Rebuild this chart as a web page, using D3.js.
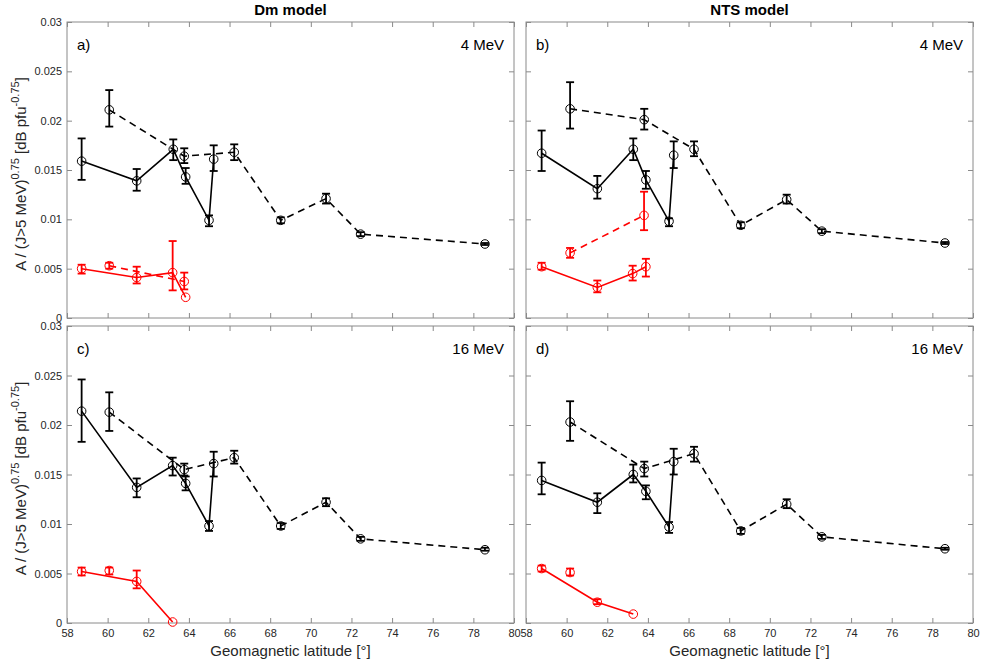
<!DOCTYPE html>
<html><head><meta charset="utf-8">
<script src="https://cdn.jsdelivr.net/npm/d3@7"></script>
<style>
html,body{margin:0;padding:0;background:#fff;}
svg{display:block;font-family:"Liberation Sans",Arial,sans-serif;}
</style></head>
<body>
<script>
// ---------- data ----------
const xTicks = [58,60,62,64,66,68,70,72,74,76,78,80];
const yTicks = [0,0.005,0.01,0.015,0.02,0.025,0.03];
const yTickLabels = ["0","0.005","0.01","0.015","0.02","0.025","0.03"];
const modelTitles = ["Dm model","NTS model"];
const panelLetters = ["a)","b)","c)","d)"];
const energyLabels = ["4 MeV","4 MeV","16 MeV","16 MeV"];

// panel a: Dm, 4 MeV
const blackSolidA_lat = [58.72,61.43,63.23,63.84,64.99,65.22];
const blackSolidA_val = [0.0159,0.0139,0.0171,0.0143,0.0099,0.0161];
const blackSolidA_lo  = [0.0140,0.0129,0.0160,0.0136,0.0093,0.0149];
const blackSolidA_hi  = [0.0182,0.0151,0.0181,0.0152,0.0104,0.0175];
const blackDashA_lat = [60.08,63.77,66.23,68.52,70.75,72.45,78.57];
const blackDashA_val = [0.0211,0.0164,0.0168,0.0099,0.0121,0.0085,0.0075];
const blackDashA_lo  = [0.0194,0.0157,0.0160,0.0096,0.0116,0.0083,0.0074];
const blackDashA_hi  = [0.0231,0.0172,0.0176,0.0102,0.0126,0.0087,0.0076];
const redSolidA_lat = [58.72,61.43,63.20,63.84];
const redSolidA_val = [0.0050,0.0041,0.0046,0.0021];
const redSolidA_lo  = [0.0045,0.0035,0.0028,null];
const redSolidA_hi  = [0.0054,0.0052,0.0078,null];
const redDashA_lat = [60.08,63.77];
const redDashA_val = [0.0053,0.0037];
const redDashA_lo  = [0.0050,0.0029];
const redDashA_hi  = [0.0056,0.0046];

// panel b: NTS, 4 MeV
const blackSolidB_lat = [58.77,61.51,63.28,63.90,65.04,65.27];
const blackSolidB_val = [0.0167,0.0131,0.0171,0.0140,0.0098,0.0165];
const blackSolidB_lo  = [0.0149,0.0121,0.0160,0.0131,0.0093,0.0152];
const blackSolidB_hi  = [0.0190,0.0144,0.0182,0.0149,0.0101,0.0179];
const blackDashB_lat = [60.17,63.82,66.27,68.57,70.83,72.56,78.62];
const blackDashB_val = [0.0212,0.0201,0.0171,0.0094,0.0120,0.0088,0.0076];
const blackDashB_lo  = [0.0192,0.0191,0.0164,0.0091,0.0116,0.0086,0.0075];
const blackDashB_hi  = [0.0239,0.0212,0.0179,0.0097,0.0125,0.0090,0.0077];
const redSolidB_lat = [58.77,61.51,63.25,63.90];
const redSolidB_val = [0.0052,0.0031,0.0045,0.0052];
const redSolidB_lo  = [0.0049,0.0026,0.0038,0.0042];
const redSolidB_hi  = [0.0056,0.0038,0.0053,0.0060];
const redDashB_lat = [60.17,63.81];
const redDashB_val = [0.0066,0.0104];
const redDashB_lo  = [0.0061,0.0089];
const redDashB_hi  = [0.0071,0.0128];

// panel c: Dm, 16 MeV
const blackSolidC_lat = [58.72,61.43,63.20,63.84,64.99,65.22];
const blackSolidC_val = [0.0214,0.0137,0.0159,0.0141,0.0098,0.0161];
const blackSolidC_lo  = [0.0183,0.0127,0.0149,0.0134,0.0093,0.0148];
const blackSolidC_hi  = [0.0246,0.0146,0.0167,0.0148,0.0103,0.0173];
const blackDashC_lat = [60.08,63.77,66.23,68.52,70.75,72.45,78.57];
const blackDashC_val = [0.0213,0.0155,0.0167,0.0098,0.0122,0.0085,0.0074];
const blackDashC_lo  = [0.0194,0.0149,0.0161,0.0095,0.0118,0.0083,0.0073];
const blackDashC_hi  = [0.0233,0.0161,0.0174,0.0101,0.0126,0.0087,0.0076];
const redSolidC_lat = [58.72,61.43,63.20];
const redSolidC_val = [0.0052,0.0042,0.0001];
const redSolidC_lo  = [0.0048,0.0035,null];
const redSolidC_hi  = [0.0056,0.0053,null];
const redPointC_lat = [60.08];
const redPointC_val = [0.0053];
const redPointC_lo  = [0.0049];
const redPointC_hi  = [0.0056];

// panel d: NTS, 16 MeV
const blackSolidD_lat = [58.77,61.51,63.28,63.90,65.04,65.27];
const blackSolidD_val = [0.0144,0.0122,0.0150,0.0133,0.0097,0.0163];
const blackSolidD_lo  = [0.0130,0.0111,0.0142,0.0125,0.0091,0.0150];
const blackSolidD_hi  = [0.0162,0.0131,0.0160,0.0139,0.0102,0.0176];
const blackDashD_lat = [60.17,63.82,66.27,68.57,70.83,72.56,78.62];
const blackDashD_val = [0.0203,0.0156,0.0171,0.0093,0.0120,0.0087,0.0075];
const blackDashD_lo  = [0.0184,0.0148,0.0163,0.0090,0.0116,0.0085,0.0074];
const blackDashD_hi  = [0.0224,0.0163,0.0178,0.0096,0.0125,0.0089,0.0076];
const redSolidD_lat = [58.77,61.51,63.28];
const redSolidD_val = [0.0055,0.0021,0.0009];
const redSolidD_lo  = [0.0052,0.0019,null];
const redSolidD_hi  = [0.0058,0.0024,null];
const redPointD_lat = [60.17];
const redPointD_val = [0.0051];
const redPointD_lo  = [0.0048];
const redPointD_hi  = [0.0055];

// ---------- assemble ----------
function series(lat,val,lo,hi,color,style){
  return {color, style, pts: lat.map((x,i)=>({x, y:val[i], lo:lo[i], hi:hi[i]}))};
}
const panelSeries = [
  [series(blackSolidA_lat,blackSolidA_val,blackSolidA_lo,blackSolidA_hi,"#000","solid"),
   series(blackDashA_lat,blackDashA_val,blackDashA_lo,blackDashA_hi,"#000","dash"),
   series(redSolidA_lat,redSolidA_val,redSolidA_lo,redSolidA_hi,"#ff0000","solid"),
   series(redDashA_lat,redDashA_val,redDashA_lo,redDashA_hi,"#ff0000","dash")],
  [series(blackSolidB_lat,blackSolidB_val,blackSolidB_lo,blackSolidB_hi,"#000","solid"),
   series(blackDashB_lat,blackDashB_val,blackDashB_lo,blackDashB_hi,"#000","dash"),
   series(redSolidB_lat,redSolidB_val,redSolidB_lo,redSolidB_hi,"#ff0000","solid"),
   series(redDashB_lat,redDashB_val,redDashB_lo,redDashB_hi,"#ff0000","dash")],
  [series(blackSolidC_lat,blackSolidC_val,blackSolidC_lo,blackSolidC_hi,"#000","solid"),
   series(blackDashC_lat,blackDashC_val,blackDashC_lo,blackDashC_hi,"#000","dash"),
   series(redSolidC_lat,redSolidC_val,redSolidC_lo,redSolidC_hi,"#ff0000","solid"),
   series(redPointC_lat,redPointC_val,redPointC_lo,redPointC_hi,"#ff0000","none")],
  [series(blackSolidD_lat,blackSolidD_val,blackSolidD_lo,blackSolidD_hi,"#000","solid"),
   series(blackDashD_lat,blackDashD_val,blackDashD_lo,blackDashD_hi,"#000","dash"),
   series(redSolidD_lat,redSolidD_val,redSolidD_lo,redSolidD_hi,"#ff0000","solid"),
   series(redPointD_lat,redPointD_val,redPointD_lo,redPointD_hi,"#ff0000","none")]
];

// ---------- layout ----------
const W=981,H=666;
const colX=[[67,514],[526,973]];
const rowY=[[22,318],[326,623]];
const axisColor="#8a8a8a", textColor="#262626";

const svg=d3.select("body").append("svg").attr("width",W).attr("height",H);

for(let p=0;p<4;p++){
  const col=p%2,row=Math.floor(p/2);
  const [x0,x1]=colX[col],[y0,y1]=rowY[row];
  const x=d3.scaleLinear().domain([58,80]).range([x0,x1]);
  const y=d3.scaleLinear().domain([0,0.03]).range([y1,y0]);
  const g=svg.append("g");

  g.append("rect").attr("x",x0).attr("y",y0).attr("width",x1-x0).attr("height",y1-y0)
    .attr("fill","#fff").attr("stroke",axisColor).attr("stroke-width",1);

  const styleAxis=(sel,showLabels)=>{
    sel.select(".domain").remove();
    sel.selectAll(".tick line").attr("stroke",axisColor);
    sel.selectAll(".tick text").attr("fill",textColor).style("font-size","11px")
      .style("font-family","'Liberation Sans',Arial,sans-serif")
      .attr("opacity",showLabels?1:0);
  };
  const fmtY=(d)=>yTickLabels[yTicks.indexOf(d)];
  g.append("g").attr("transform",`translate(${x0},0)`)
    .call(d3.axisLeft(y).tickValues(yTicks).tickFormat(fmtY).tickSize(-5).tickPadding(5))
    .call(s=>styleAxis(s,col===0));
  g.append("g").attr("transform",`translate(${x1},0)`)
    .call(d3.axisRight(y).tickValues(yTicks).tickFormat("").tickSize(-5))
    .call(s=>styleAxis(s,false));
  g.append("g").attr("transform",`translate(0,${y1})`)
    .call(d3.axisBottom(x).tickValues(xTicks).tickFormat(d3.format("d")).tickSize(-5).tickPadding(6))
    .call(s=>styleAxis(s,row===1));
  g.append("g").attr("transform",`translate(0,${y0})`)
    .call(d3.axisTop(x).tickValues(xTicks).tickFormat("").tickSize(-5))
    .call(s=>styleAxis(s,false));

  const line=d3.line().x(d=>x(d.x)).y(d=>y(d.y));
  panelSeries[p].forEach(s=>{
    if(s.style!=="none"){
      g.append("path").datum(s.pts).attr("d",line).attr("fill","none")
        .attr("stroke",s.color).attr("stroke-width",1.6)
        .attr("stroke-dasharray",s.style==="dash"?"7,5":null);
    }
    const eb=s.pts.filter(d=>d.lo!=null&&d.hi!=null);
    const eg=g.append("g").attr("stroke",s.color).attr("stroke-width",1.8).attr("fill","none");
    eg.selectAll("line.v").data(eb).join("line")
      .attr("x1",d=>x(d.x)).attr("x2",d=>x(d.x)).attr("y1",d=>y(d.lo)).attr("y2",d=>y(d.hi));
    eg.selectAll("line.t").data(eb).join("line")
      .attr("x1",d=>x(d.x)-4).attr("x2",d=>x(d.x)+4).attr("y1",d=>y(d.hi)).attr("y2",d=>y(d.hi));
    eg.selectAll("line.b").data(eb).join("line")
      .attr("x1",d=>x(d.x)-4).attr("x2",d=>x(d.x)+4).attr("y1",d=>y(d.lo)).attr("y2",d=>y(d.lo));
    g.append("g").selectAll("circle").data(s.pts).join("circle")
      .attr("cx",d=>x(d.x)).attr("cy",d=>y(d.y)).attr("r",4.3)
      .attr("fill","none").attr("stroke",s.color).attr("stroke-width",1);
  });

  g.append("text").attr("x",x0+10).attr("y",y0+28).text(panelLetters[p])
    .attr("fill","#000").style("font-size","15px");
  g.append("text").attr("x",x1-10).attr("y",y0+28).attr("text-anchor","end").text(energyLabels[p])
    .attr("fill","#000").style("font-size","15px");

  if(row===0){
    g.append("text").attr("x",(x0+x1)/2).attr("y",y0-7).attr("text-anchor","middle")
      .text(modelTitles[col]).style("font-size","15px").style("font-weight","bold").attr("fill","#000");
  }
  if(row===1){
    g.append("text").attr("x",(x0+x1)/2).attr("y",656).attr("text-anchor","middle")
      .text("Geomagnetic latitude [°]").style("font-size","15px").attr("fill",textColor);
  }
  if(col===0){
    const t=g.append("text").attr("transform",`translate(26,${(y0+y1)/2+4}) rotate(-90)`)
      .attr("text-anchor","middle").style("font-size","15px").attr("fill",textColor);
    t.append("tspan").text("A / (J>5 MeV)");
    t.append("tspan").text("0.75").attr("dy",-7).style("font-size","11px");
    t.append("tspan").text(" [dB pfu").attr("dy",7);
    t.append("tspan").text("-0.75").attr("dy",-7).style("font-size","11px");
    t.append("tspan").text("]").attr("dy",7);
  }
}
</script>
</body></html>
